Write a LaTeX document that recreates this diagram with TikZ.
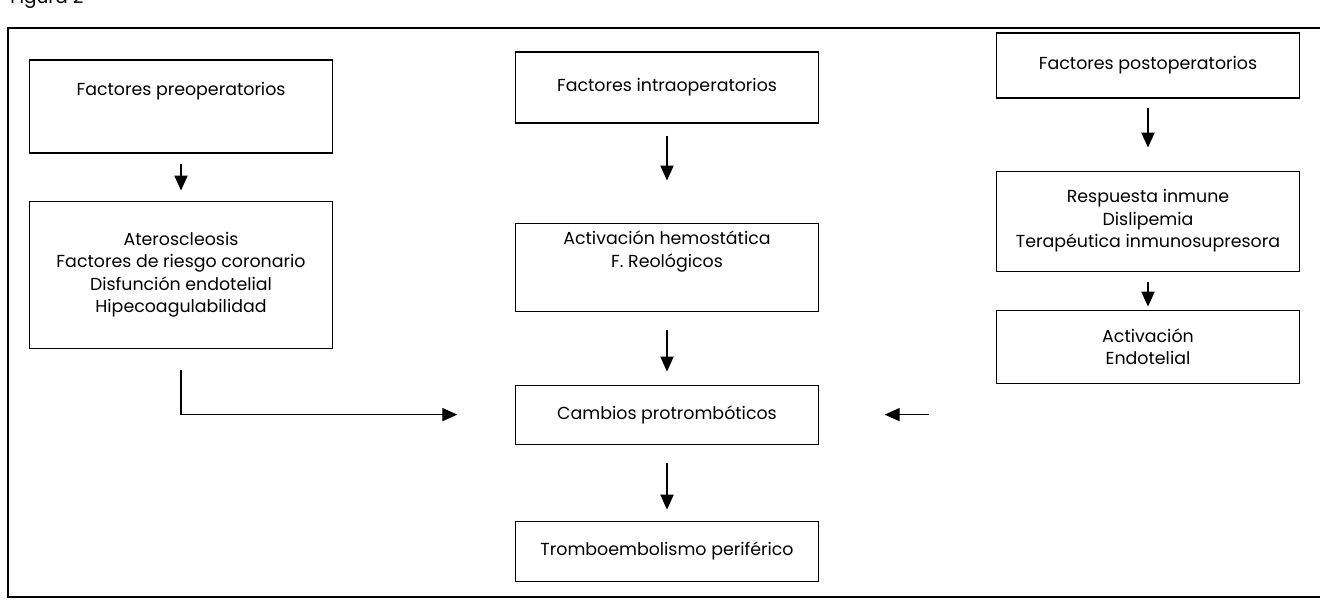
\documentclass[tikz,border=0pt]{standalone}
\usepackage{fontspec}
\setmainfont{Poppins}
\usetikzlibrary{arrows.meta}
\usetikzlibrary{positioning}

\begin{document}
\begin{tikzpicture}[caja/.style={draw, line width=0.6pt, align=center, minimum width=6.05cm, inner sep=2pt, font=\fontsize{9.9}{12.8}\selectfont},
        flecha/.style={-{Triangle[length=8.5pt,width=7.5pt]}, line width=0.75pt}]
        \useasboundingbox (0,0) rectangle (26.4,-12.28);
        \node[anchor=base west, inner sep=0pt, font=\fontsize{10.5}{12}\selectfont] (fig) at (0.2,-0.07) {Figura 2};
        \draw[line width=0.8pt] (26.4,-0.56) -- (0.16,-0.56) -- (0.16,-11.94) -- (26.4,-11.94);

        % columna izquierda
        \node[caja, minimum height=1.86cm, text depth=0.72cm] (fpre) at (3.62,-2.13) {Factores preoperatorios};
        \node[caja, minimum height=2.94cm, below=0.94cm of fpre] (ater) {Ateroscleosis\\Factores de riesgo coronario\\Disfunción endotelial\\Hipecoagulabilidad};

        % columna central
        \node[caja, minimum height=1.42cm] (fintra) at (13.34,-1.75) {Factores intraoperatorios};
        \node[caja, minimum height=1.76cm, text depth=0.72cm, below=1.98cm of fintra] (hemo) {Activación hemostática\\F. Reológicos};
        \node[caja, minimum height=1.18cm, below=1.46cm of hemo] (cambios) {Cambios protrombóticos};
        \node[caja, minimum height=1.20cm, below=1.52cm of cambios] (trombo) {Tromboembolismo periférico};

        % columna derecha
        \node[caja, minimum height=1.30cm] (fpost) at (22.96,-1.31) {Factores postoperatorios};
        \node[caja, minimum height=2.00cm, below=1.44cm of fpost] (resp) {Respuesta inmune\\Dislipemia\\Terapéutica inmunosupresora};
        \node[caja, minimum height=1.46cm, below=0.76cm of resp] (endo) {Activación\\Endotelial};

        \path[flecha] (fpre) edge [shorten <=0.2cm, shorten >=0.2cm] node {} (ater);
        \path[flecha] (fintra) edge [shorten <=0.24cm, shorten >=0.84cm] node {} (hemo);
        \path[flecha] (hemo) edge [shorten <=0.36cm, shorten >=0.26cm] node {} (cambios);
        \path[flecha] (cambios) edge [shorten <=0.36cm, shorten >=0.22cm] node {} (trombo);
        \path[flecha] (fpost) edge [shorten <=0.18cm, shorten >=0.46cm] node {} (resp);
        \path[flecha] (resp) edge [shorten <=0.2cm, shorten >=0.06cm] node {} (endo);

        \draw[flecha, shorten <=0.42cm, shorten >=1.16cm] (ater.south) |- (cambios.west);
        \draw[flecha, shorten <=1.34cm, shorten >=1.32cm] (endo.west |- cambios.east) -- (cambios.east);
    \end{tikzpicture}
\end{document}
